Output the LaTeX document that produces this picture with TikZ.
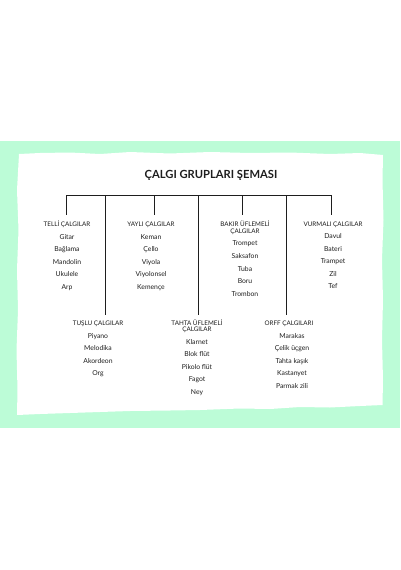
\documentclass[tikz,border=0pt]{standalone}
\usepackage{fontspec}
\setmainfont{Lato}
\definecolor{mint}{RGB}{188,252,215}
\definecolor{ink}{RGB}{30,30,30}
\begin{document}
\begin{tikzpicture}[x=1pt,y=-1pt,
  lbl/.style={anchor=base,inner sep=0pt,font=\fontsize{6.3}{6.5}\selectfont,text=ink},
  itm/.style={anchor=base,inner sep=0pt,font=\fontsize{6.8}{8}\selectfont,text=ink},
  ttl/.style={anchor=base,inner sep=0pt,font=\fontsize{11.2}{12}\selectfont\bfseries,text=ink},
  conn/.style={draw=ink,line width=0.8pt}]
\useasboundingbox (0,0) rectangle (400,570);
\fill[white] (0,0) rectangle (400,570);
\fill[mint] (0,141) rectangle (400,428);
% rough white paper
\fill[white] (19,154) -- (40,153) -- (70,152.5) -- (100,154) -- (130,152) -- (170,153.5) -- (210,152) -- (250,153) -- (290,152.5) -- (330,154) -- (360,153) -- (383,155)
  -- (382.5,180) -- (383.5,220) -- (382,260) -- (383,300) -- (382,340) -- (383,380) -- (382.5,405)
  -- (360,406) -- (330,407.5) -- (300,407) -- (270,409) -- (240,408.5) -- (200,410) -- (170,410.5) -- (130,411) -- (100,412) -- (70,413) -- (40,414) -- (17,415)
  -- (17.5,390) -- (16.5,350) -- (18,310) -- (17,270) -- (18.5,230) -- (17,190) -- cycle;

\node[ttl] (title) at (211,178) {ÇALGI GRUPLARI ŞEMASI};

\coordinate (bL) at (66,195);
\coordinate (bR) at (332,195);
\draw[conn] (bL) -- (bR);
\foreach \n/\x in {b1/66,b2/105,b3/154,b4/198,b5/242,b6/286,b7/331}
  \coordinate (\n) at (\x,195);

% top row groups
\node[lbl] (g1) at (67,226.5) {TELLİ ÇALGILAR};
\foreach \t [count=\i] in {Gitar,Bağlama,Mandolin,Ukulele,Arp}
  \node[itm] (g1-\i) at (67,226.5+12.5*\i) {\t};

\node[lbl] (g3) at (151,226.5) {YAYLI ÇALGILAR};
\foreach \t [count=\i] in {Keman,Çello,Viyola,Viyolonsel,Kemençe}
  \node[itm] (g3-\i) at (151,226.5+12.5*\i) {\t};

\node[lbl] (g5) at (245,226.5) {BAKIR ÜFLEMELİ};
\node[lbl] (g5b) at (245,233) {ÇALGILAR};
\foreach \t [count=\i] in {Trompet,Saksafon,Tuba,Boru,Trombon}
  \node[itm] (g5-\i) at (245,233+12.7*\i) {\t};

\node[lbl] (g7) at (333,226.5) {VURMALI ÇALGILAR};
\foreach \t [count=\i] in {Davul,Bateri,Trampet,Zil,Tef}
  \node[itm] (g7-\i) at (333,226.5+12.4*\i) {\t};

% bottom row groups
\node[lbl] (g2) at (98,325.5) {TUŞLU ÇALGILAR};
\foreach \t [count=\i] in {Piyano,Melodika,Akordeon,Org}
  \node[itm] (g2-\i) at (98,325.5+12.6*\i) {\t};

\node[lbl] (g4) at (197,325) {TAHTA ÜFLEMELİ};
\node[lbl] (g4b) at (197,331.5) {ÇALGILAR};
\foreach \t [count=\i] in {Klarnet,Blok flüt,Pikolo flüt,Fagot,Ney}
  \node[itm] (g4-\i) at (197,331.5+12.5*\i) {\t};

\node[lbl] (g6) at (289,325.5) {ORFF ÇALGILARI};
\foreach \t [count=\i] in {Marakas,Çelik üçgen,Tahta kaşık,Kastanyet,Parmak zili}
  \node[itm] (g6-\i) at (292,325.5+12.6*\i) {\t};

% connectors
\draw[conn] (b1) -- (b1 |- 0,215);
\draw[conn] (b3) -- (b3 |- 0,215);
\draw[conn] (b5) -- (b5 |- 0,215);
\draw[conn] (b7) -- (b7 |- 0,215);
\draw[conn] (b2) -- (b2 |- 0,315);
\draw[conn] (b4) -- (b4 |- 0,315);
\draw[conn] (b6) -- (b6 |- 0,315);
\end{tikzpicture}
\end{document}
